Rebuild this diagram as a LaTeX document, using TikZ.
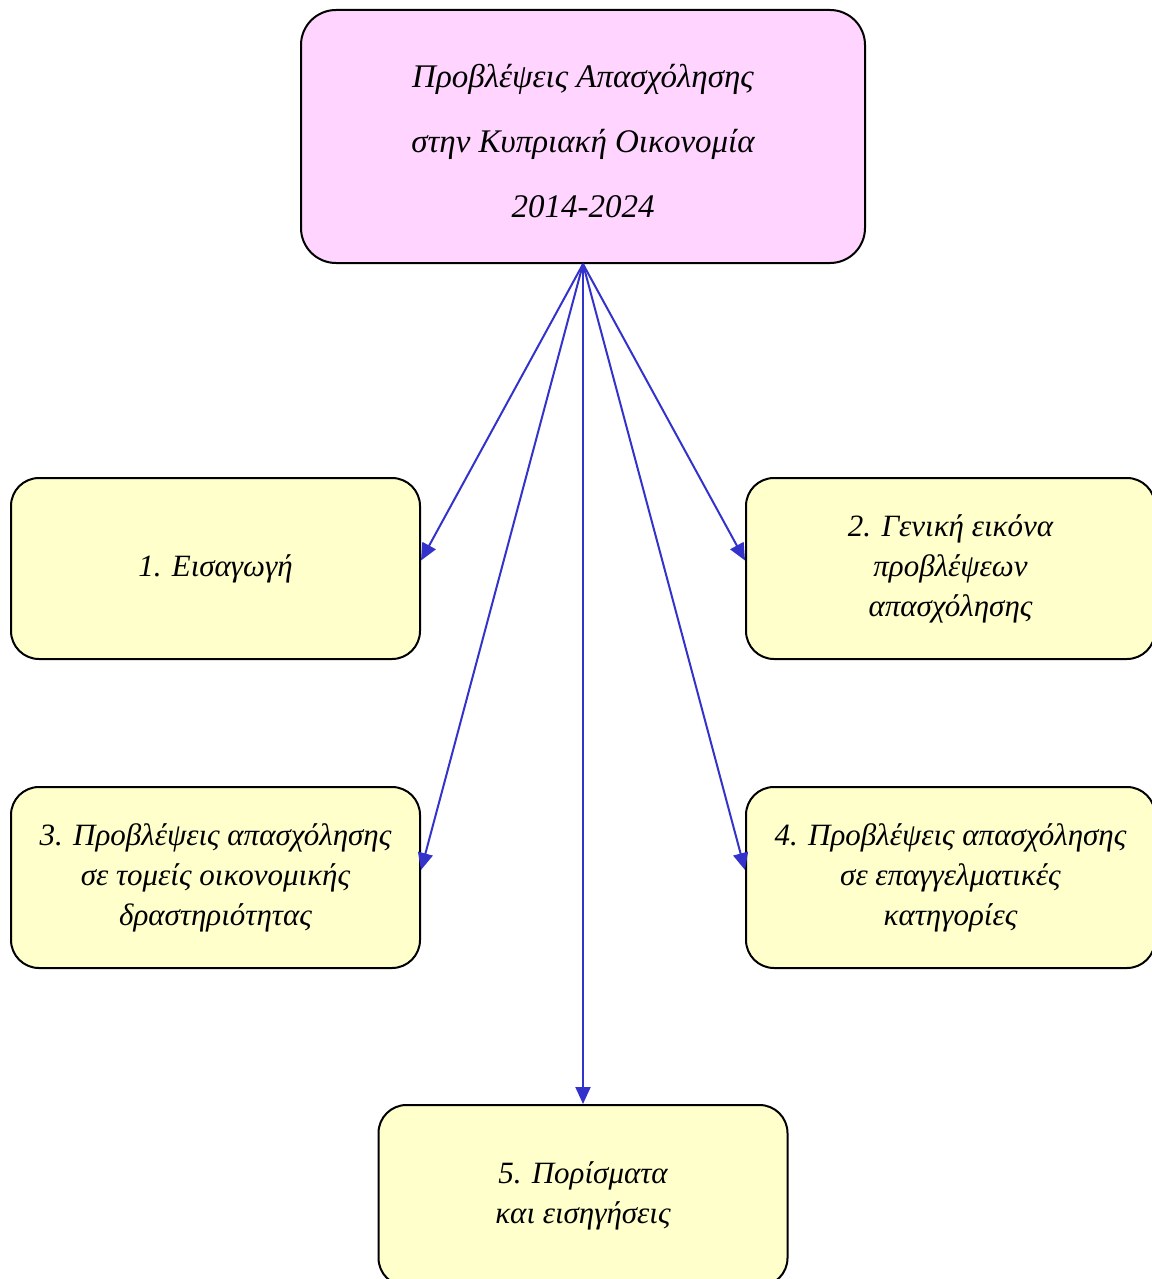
\documentclass[tikz,border=0pt]{standalone}
\usepackage{fontspec}
\setmainfont{Liberation Serif}
\usetikzlibrary{arrows.meta}
\definecolor{boxyellow}{HTML}{FFFFCC}
\definecolor{toppink}{HTML}{FFD5FF}
\definecolor{arrowblue}{HTML}{3333CC}
\begin{document}
\begin{tikzpicture}[x=1pt,y=-1pt,
  box/.style={draw=black,line width=2pt,rounded corners=28pt,fill=boxyellow,
    minimum width=409pt,minimum height=181pt,align=center,inner sep=0pt,
    font=\fontsize{31}{40}\selectfont\itshape},
  conn/.style={draw=arrowblue,line width=2pt,-{Triangle[length=17pt,width=15pt]}}]
\useasboundingbox (0,0) rectangle (1151,1279);
\node[box,fill=toppink,minimum width=564pt,minimum height=253pt,rounded corners=35pt] (top) at (583,136.5) {};
\node[align=center,inner sep=0pt,font=\fontsize{33}{65}\selectfont\itshape] (toptext) at ([yshift=-5pt]top.center)
  {Προβλέψεις Απασχόλησης\\ στην Κυπριακή Οικονομία\\ 2014-2024};
\node[box] (b1) at (215.5,568.5) {1. Εισαγωγή};
\node[box] (b2) at (950.5,568.5) {2. Γενική εικόνα\\ προβλέψεων\\ απασχόλησης};
\node[box] (b3) at (215.5,877.5) {3. Προβλέψεις απασχόλησης\\ σε τομείς οικονομικής\\ δραστηριότητας};
\node[box] (b4) at (950.5,877.5) {4. Προβλέψεις απασχόλησης\\ σε επαγγελματικές\\ κατηγορίες};
\node[box] (b5) at (583,1195.5) {5. Πορίσματα\\ και εισηγήσεις};
\draw[conn] (top.south) -- ([yshift=8pt]b1.east);
\draw[conn] (top.south) -- ([yshift=8pt]b2.west);
\draw[conn] (top.south) -- ([yshift=7.5pt]b3.east);
\draw[conn] (top.south) -- ([yshift=7.5pt]b4.west);
\draw[conn] (top.south) -- (b5.north);
\end{tikzpicture}
\end{document}
